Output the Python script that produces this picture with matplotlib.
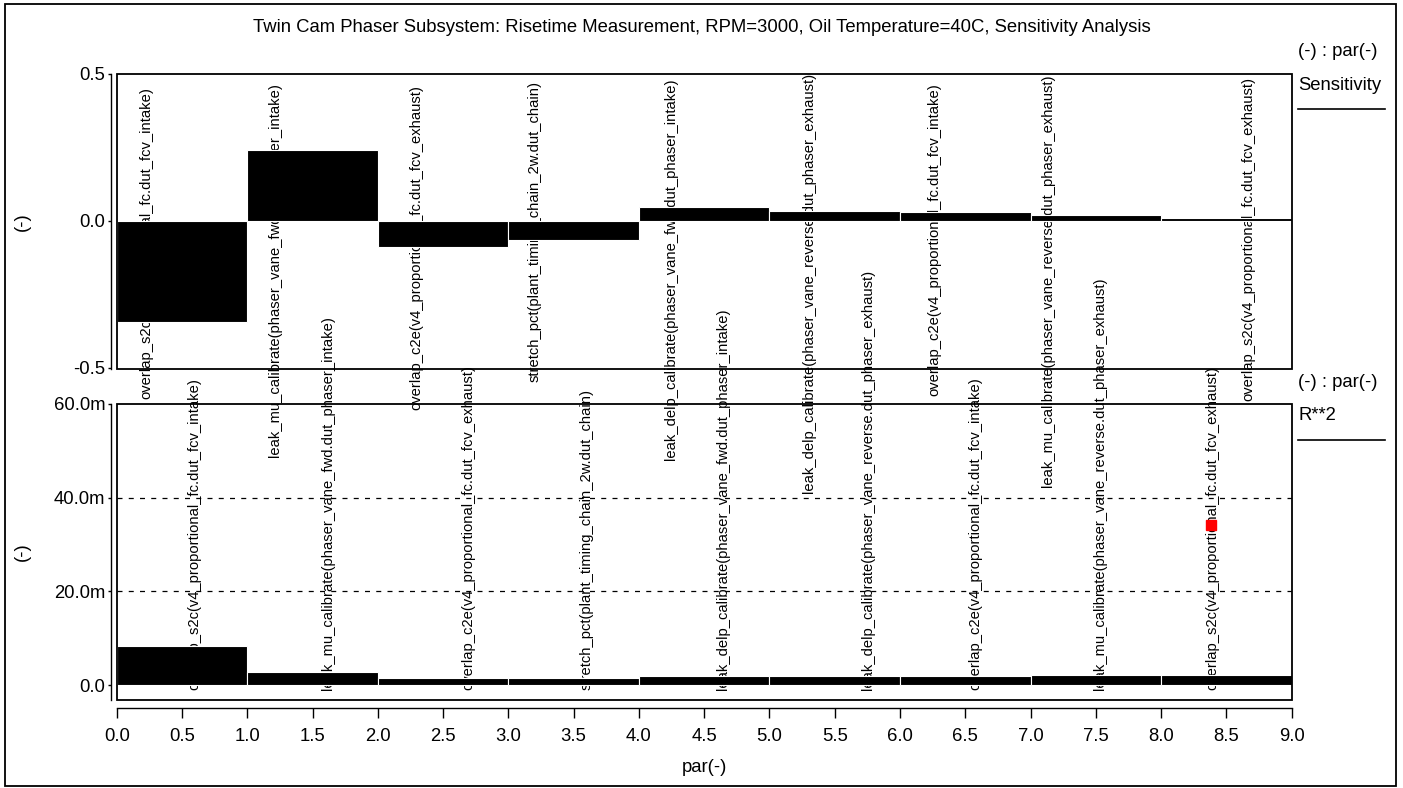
import numpy as np
import matplotlib
matplotlib.use('Agg')
import matplotlib.pyplot as plt
from matplotlib.patches import Rectangle
from matplotlib.lines import Line2D
from matplotlib.ticker import FuncFormatter

plt.rcParams['font.family'] = ['Liberation Sans', 'DejaVu Sans']

# parameter names, one per bar
params = [
    'overlap_s2c(v4_proportional_fc.dut_fcv_intake)',
    'leak_mu_calibrate(phaser_vane_fwd.dut_phaser_intake)',
    'overlap_c2e(v4_proportional_fc.dut_fcv_exhaust)',
    'stretch_pct(plant_timing_chain_2w.dut_chain)',
    'leak_delp_calibrate(phaser_vane_fwd.dut_phaser_intake)',
    'leak_delp_calibrate(phaser_vane_reverse.dut_phaser_exhaust)',
    'overlap_c2e(v4_proportional_fc.dut_fcv_intake)',
    'leak_mu_calibrate(phaser_vane_reverse.dut_phaser_exhaust)',
    'overlap_s2c(v4_proportional_fc.dut_fcv_exhaust)',
]
sensitivity = [-0.345, 0.240, -0.088, -0.064, 0.048, 0.035, 0.029, 0.021, 0.010]
r_squared = [8.24e-3, 2.73e-3, 1.6e-3, 1.6e-3, 1.86e-3, 1.86e-3, 1.86e-3, 2.1e-3, 2.1e-3]
highlight_par = [8.38]
highlight_r2 = [34.2e-3]

# where the rotated name labels sit (layout only)
top_label_x = [0.224, 1.209, 2.292, 3.204, 4.242, 5.301, 6.266, 7.131, 8.670]
top_label_y = [0.456, 0.469, 0.463, 0.476, 0.484, 0.505, 0.469, 0.498, 0.490]
bot_label_x = [0.592, 1.618, 2.690, 3.597, 4.642, 5.753, 6.576, 7.530, 8.395]

W, H = 1403, 788
fig = plt.figure(figsize=(W / 100, H / 100), dpi=100)

def fx(px):
    return px / W

def fy(py):
    return 1 - py / H

left, right = 116.7, 1291.7
ax1 = fig.add_axes([fx(left), fy(369.3), fx(right - left), (369.3 - 74) / H])
ax2 = fig.add_axes([fx(left), fy(700), fx(right - left), (700 - 404) / H])

x = np.arange(len(params)) + 0.5
fs = 13.3
lfs = 10.6

for ax in (ax1, ax2):
    ax.set_facecolor('none')
    ax.set_xlim(0, 9)
    for s in ('top', 'right', 'bottom'):
        ax.spines[s].set_visible(False)
    ax.spines['left'].set_position(('outward', 4))
    ax.spines['left'].set_linewidth(1.0)
    ax.add_patch(Rectangle((0, 0), 1, 1, transform=ax.transAxes, fill=False,
                           lw=1.3, ec='black', clip_on=False, zorder=5))
    ax.tick_params(axis='y', direction='out', length=2.5, width=1, pad=1.5, labelsize=fs)
    ax.set_ylabel('(-)', fontsize=fs)
    ax.yaxis.set_label_coords(-0.073, 0.5)

# top panel: sensitivity
ax1.bar(x, sensitivity, width=1.0, color='black', edgecolor='white', linewidth=0.8, zorder=3)
ax1.set_ylim(-0.505, 0.5)
ax1.set_yticks([-0.5, 0.0, 0.5])
ax1.yaxis.set_major_formatter(FuncFormatter(lambda v, p: f'{v:.1f}'))
ax1.set_xticks([])
for name, lx, ly in zip(params, top_label_x, top_label_y):
    ax1.text(lx, ly, name, rotation=90, ha='center', va='top', fontsize=lfs,
             clip_on=False, zorder=1)

# bottom panel: R**2
ax2.bar(x, r_squared, width=1.0, color='black', edgecolor='white', linewidth=0.8, zorder=3)
ax2.plot(highlight_par, highlight_r2, 's', color='red', ms=7, zorder=4)
ax2.set_ylim(-3.2e-3, 60e-3)
ax2.set_yticks([0, 20e-3, 40e-3, 60e-3])
ax2.yaxis.set_major_formatter(FuncFormatter(lambda v, p: '0.0' if abs(v) < 1e-9 else f'{v * 1000:.1f}m'))
for gy in (20e-3, 40e-3):
    ax2.axhline(gy, color='black', lw=0.9, ls=(0, (4, 5)), zorder=0)
for name, lx in zip(params, bot_label_x):
    ax2.text(lx, -1.0e-3, name, rotation=90, ha='center', va='bottom', fontsize=lfs,
             clip_on=False, zorder=1)

ax2.spines['bottom'].set_visible(True)
ax2.spines['bottom'].set_position(('outward', 6))
ax2.spines['bottom'].set_linewidth(1.0)
ax2.set_xticks(np.arange(0, 9.01, 0.5))
ax2.xaxis.set_major_formatter(FuncFormatter(lambda v, p: f'{v:.1f}'))
ax2.tick_params(axis='x', direction='out', length=7, width=1, pad=7, labelsize=fs)
ax2.set_xlabel('par(-)', fontsize=fs, labelpad=10)

# title and right-hand legend texts
fig.text(0.5, fy(28), 'Twin Cam Phaser Subsystem: Risetime Measurement, RPM=3000, Oil Temperature=40C, Sensitivity Analysis',
         ha='center', va='center', fontsize=fs)
fig.text(fx(1298), fy(52), '(-) : par(-)', ha='left', va='center', fontsize=fs)
fig.text(fx(1298), fy(86), 'Sensitivity', ha='left', va='center', fontsize=fs)
fig.add_artist(Line2D([fx(1298), fx(1385)], [fy(109), fy(109)], color='black', lw=1.2))
fig.text(fx(1298), fy(382), '(-) : par(-)', ha='left', va='center', fontsize=fs)
fig.text(fx(1298), fy(416), 'R**2', ha='left', va='center', fontsize=fs)
fig.add_artist(Line2D([fx(1298), fx(1385)], [fy(440), fy(440)], color='black', lw=1.2))

# outer frame
fig.add_artist(Rectangle((fx(5), fy(786)), fx(1396 - 5), (786 - 4) / H, transform=fig.transFigure,
                         fill=False, ec='black', lw=1.3))

fig.savefig('out.png', dpi=100)
